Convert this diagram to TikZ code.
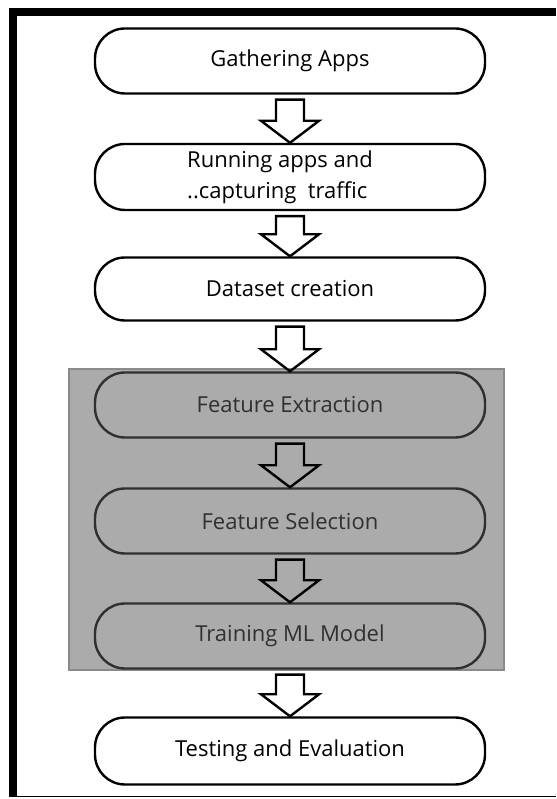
\documentclass[tikz,border=0pt]{standalone}
\usepackage{fontspec}
\setmainfont{Open Sans}
\usetikzlibrary{calc}

\definecolor{panelgray}{HTML}{ABABAB}
\definecolor{paneledge}{HTML}{8A8A8A}
\definecolor{darktext}{HTML}{303030}

\tikzset{
    stage/.style={draw, line width=2.4pt, rounded corners=30pt, minimum width=390pt, minimum height=65pt, fill=white, font=\fontsize{22}{30}\selectfont},
    graystage/.style={stage, draw=darktext, fill=panelgray, text=darktext},
    blockarrow/.style={draw, line width=2.4pt, line join=miter}
}

\newcommand{\stagearrow}[2]{%
    \draw[blockarrow] ($(#1.south)+(-14,-5)$) -- ($(#2.north)+(-14,22)$) -- ($(#2.north)+(-29,22)$) -- (#2.north) -- ($(#2.north)+(29,22)$) -- ($(#2.north)+(14,22)$) -- ($(#1.south)+(14,-5)$) -- cycle;
}

\begin{document}
\begin{tikzpicture}[x=1pt,y=1pt]
            \useasboundingbox (0,0) rectangle (556,799);
            \fill (9,2) rectangle (17,791);
            \fill (9,783) rectangle (556,791);
            \draw[line width=1.5pt] (9,2.5) -- (556,2.5);

            % grey panel behind the learning steps
            \draw[paneledge, fill=panelgray, line width=1.5pt] (69,129) rectangle (504,430);

            \node[stage] (gather) at (290,738) {Gathering Apps};
            \node[stage, minimum height=66pt] (run) at (290,622) {};
            \node[align=left, font=\fontsize{22}{31}\selectfont] (runtext) at (280,622) {Running apps and\\..capturing\ \ traffic};
            \node[stage, minimum height=63pt] (dataset) at (290,510) {Dataset creation};
            \node[graystage] (extract) at (290,394) {Feature Extraction};
            \node[graystage] (select) at (290,278) {Feature Selection};
            \node[graystage] (train) at (290,163) {Training ML Model};
            \node[stage, minimum height=67pt] (test) at (290,48) {Testing and Evaluation};

            \stagearrow{gather}{run}
            \stagearrow{run}{dataset}
            \stagearrow{dataset}{extract}
            \stagearrow{extract}{select}
            \stagearrow{select}{train}
            \stagearrow{train}{test}
        \end{tikzpicture}
\end{document}
